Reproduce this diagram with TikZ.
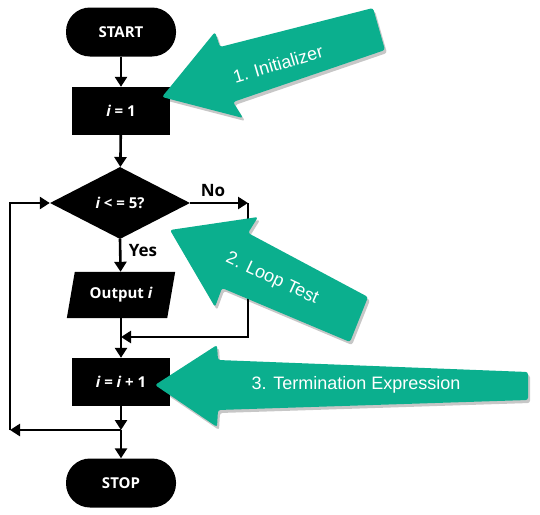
\documentclass[tikz,border=0pt]{standalone}
\usepackage{fontspec}
\setmainfont{Open Sans}
\newfontfamily\arialfont{Liberation Sans}
\usetikzlibrary{arrows.meta,shapes.geometric,backgrounds}
\definecolor{teal1}{RGB}{11,175,142}
\begin{document}
\begin{tikzpicture}[x=1pt,y=-1pt,
  flowtxt/.style={text=white, font=\bfseries\fontsize{15}{18}\selectfont, inner sep=0pt},
  flow/.style={flowtxt, fill=black},
  term/.style={flow, rectangle, rounded corners=24pt, minimum width=110pt, minimum height=49pt},
  proc/.style={flow, rectangle, minimum width=98pt, minimum height=48pt},
  dec/.style={flow, diamond, aspect=2, minimum width=140pt, minimum height=72pt},
  io/.style={flowtxt, rectangle, minimum width=100pt, minimum height=46pt},
  conn/.style={line width=2.6pt, -{Triangle[length=10pt,width=12pt]}},
  lab/.style={font=\bfseries\fontsize{17}{20}\selectfont},
  callout/.style={fill=teal1, rounded corners=2.5pt},
  calloutshadow/.style={fill=black, opacity=0.22, rounded corners=2.5pt},
  callouttext/.style={text=white, font=\arialfont\fontsize{18}{21}\selectfont}
]
\useasboundingbox (0,0) rectangle (540,514);

% flowchart nodes
\node[term] (start) at (121,32) {START};
\node[proc] (init) at (121,111) {\itshape i\upshape{} = 1};
\node[dec] (test) at (120,203) {\itshape i\upshape{} < = 5?};
\node[io] (output) at (121,295) {Output \itshape i};
\node[proc] (incr) at (121,382) {\itshape i\upshape{} = \itshape i\upshape{} + 1};
\node[term] (stop) at (121,483) {STOP};

\begin{scope}[on background layer]
\fill[white] (0,0) rectangle (540,514);
\fill[black] ([xshift=4pt]output.north west) -- ([xshift=4pt]output.north east)
  -- ([xshift=-4pt]output.south east) -- ([xshift=-4pt]output.south west) -- cycle;
\end{scope}

\coordinate (noC) at (248,203);
\coordinate (j1) at (121,337);
\coordinate (j2) at (121,430);
\coordinate (lb) at (10,430);

% connectors
\draw[conn] (start) -- (init);
\draw[conn] (init) -- (test);
\draw[conn] (test.east) -- (noC);
\draw[conn] (noC) |- (j1);
\draw[conn] (test.south) -- (output);
\draw[conn] (output) -- (incr);
\draw[conn] (incr) -- (j2);
\draw[conn] (j2) -- (stop);
\draw[conn] (j2) -- (lb);
\draw[conn] (lb) |- (test.west);

\node[lab] (no) at (213,191) {No};
\node[lab] (yes) at (143,251) {Yes};

% callout arrows
\fill[calloutshadow, shift={(2,3)}] (162,97) -- (215,32) -- (220,47) -- (373,8) -- (385,50) -- (233,102) -- (243,118) -- cycle;
\fill[callout] (162,97) -- (215,32) -- (220,47) -- (373,8) -- (385,50) -- (233,102) -- (243,118) -- cycle;
\node[callouttext, rotate=16.5] (t1) at (278,64) {1. Initializer};

\fill[calloutshadow, shift={(2,3)}] (170,230) -- (258,217) -- (248,233) -- (368,297) -- (350,342) -- (222,288) -- (215,307) -- cycle;
\fill[callout] (170,230) -- (258,217) -- (248,233) -- (368,297) -- (350,342) -- (222,288) -- (215,307) -- cycle;
\node[callouttext, rotate=-25] (t2) at (272,279) {2. Loop Test};

\fill[calloutshadow, shift={(2,3)}] (155,385) -- (217,345) -- (218,360) -- (528,372) -- (528,400) -- (218,410) -- (217,427) -- cycle;
\fill[callout] (155,385) -- (217,345) -- (218,360) -- (528,372) -- (528,400) -- (218,410) -- (217,427) -- cycle;
\node[callouttext] (t3) at (356,385) {3. Termination Expression};
\end{tikzpicture}
\end{document}
